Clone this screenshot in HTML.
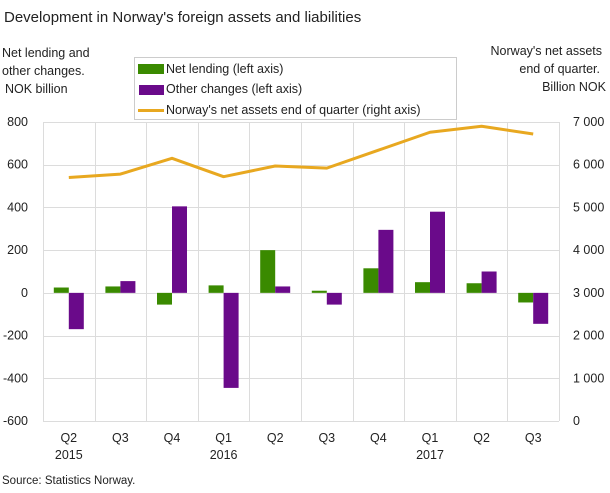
<!DOCTYPE html>
<html><head><meta charset="utf-8"><style>
body{margin:0;background:#fff;font-family:"Liberation Sans",sans-serif;}
svg text{font-family:"Liberation Sans",sans-serif;fill:#222;}
</style></head><body>
<svg id="c" width="610" height="488">
<text x="4" y="22" font-size="15">Development in Norway's foreign assets and liabilities</text>
<text x="2" y="57" font-size="12.5"><tspan x="2">Net lending and</tspan><tspan x="2" dy="18">other changes.</tspan><tspan x="5" dy="18">NOK billion</tspan></text>
<text x="600" y="55" font-size="12.5" text-anchor="end"><tspan x="602">Norway's net assets</tspan><tspan x="600" dy="18">end of quarter.</tspan><tspan x="606" dy="18">Billion  NOK</tspan></text>
<g>
<rect x="134.5" y="57.5" width="322" height="62" fill="#fff" stroke="#ccc"/>
<rect x="138" y="64" width="26" height="10" fill="#3a8a00"/>
<text x="166" y="73" font-size="12.5">Net lending (left axis)</text>
<rect x="139" y="85" width="25" height="10" fill="#6a0a8a"/>
<text x="166" y="93" font-size="12.5">Other changes (left axis)</text>
<rect x="138" y="109" width="26" height="3" fill="#e8a820"/>
<text x="166" y="114" font-size="12.5">Norway's net assets end of quarter (right axis)</text>
</g>
<g id="plot"></g>
<text x="2" y="484" font-size="11.5">Source: Statistics Norway.</text>
</svg>
<script>
const quarters=["Q2","Q3","Q4","Q1","Q2","Q3","Q4","Q1","Q2","Q3"];
const years=["2015","","","2016","","","","2017","",""];
const netLending=[25,30,-55,35,200,10,115,50,45,-45];
const otherChanges=[-170,55,405,-445,30,-55,295,380,100,-145];
const netAssets=[5700,5780,6150,5720,5970,5920,6340,6760,6900,6720];
const leftTicks=[-600,-400,-200,0,200,400,600,800];
const rightTicks=[0,1000,2000,3000,4000,5000,6000,7000];
const rightTickLabels=["0","1 000","2 000","3 000","4 000","5 000","6 000","7 000"];
const X0=43,BW=51.6,YT=122,YB=421;
const yL=v=>YB-(v+600)/1400*(YB-YT);
const yR=v=>YB-v/7000*(YB-YT);
const cx=i=>X0+BW*(i+0.5);
const g=document.getElementById('plot');
const NS="http://www.w3.org/2000/svg";
function mk(t,a){const e=document.createElementNS(NS,t);for(const k in a)e.setAttribute(k,a[k]);g.appendChild(e);return e;}
leftTicks.forEach(v=>{const l=mk('line',{x1:X0,x2:X0+BW*10,y1:Math.round(yL(v))+0.5,y2:Math.round(yL(v))+0.5,stroke:'#dcdcdc'});

});
for(let i=0;i<=10;i++){const x=Math.round(X0+BW*i)+0.5;const l=mk('line',{x1:x,x2:x,y1:YT,y2:YB,stroke:'#dcdcdc'});

}
leftTicks.forEach(v=>{const t=mk('text',{x:28,y:yL(v)+4,'font-size':12.5,'text-anchor':'end'});t.textContent=v;

});
rightTicks.forEach((v,i)=>{const t=mk('text',{x:573,y:yR(v)+4,'font-size':12.5});t.textContent=rightTickLabels[i];

});
quarters.forEach((q,i)=>{const t=mk('text',{x:cx(i),y:442,'font-size':12.5,'text-anchor':'middle'});t.textContent=q;


if(years[i]){const y=mk('text',{x:cx(i),y:459,'font-size':12.5,'text-anchor':'middle'});y.textContent=years[i];

}});
const z=yL(0);
netLending.forEach((v,i)=>{const y=yL(v);const r=mk('rect',{x:cx(i)-15,y:Math.min(y,z),width:15,height:Math.abs(z-y),fill:'#3a8a00'});

});
otherChanges.forEach((v,i)=>{const y=yL(v);const r=mk('rect',{x:cx(i),y:Math.min(y,z),width:15,height:Math.abs(z-y),fill:'#6a0a8a'});

});
const p=mk('polyline',{points:netAssets.map((v,i)=>cx(i)+','+yR(v)).join(' '),fill:'none',stroke:'#e8a820','stroke-width':3,'stroke-linejoin':'round'});


</script>
</body></html>
